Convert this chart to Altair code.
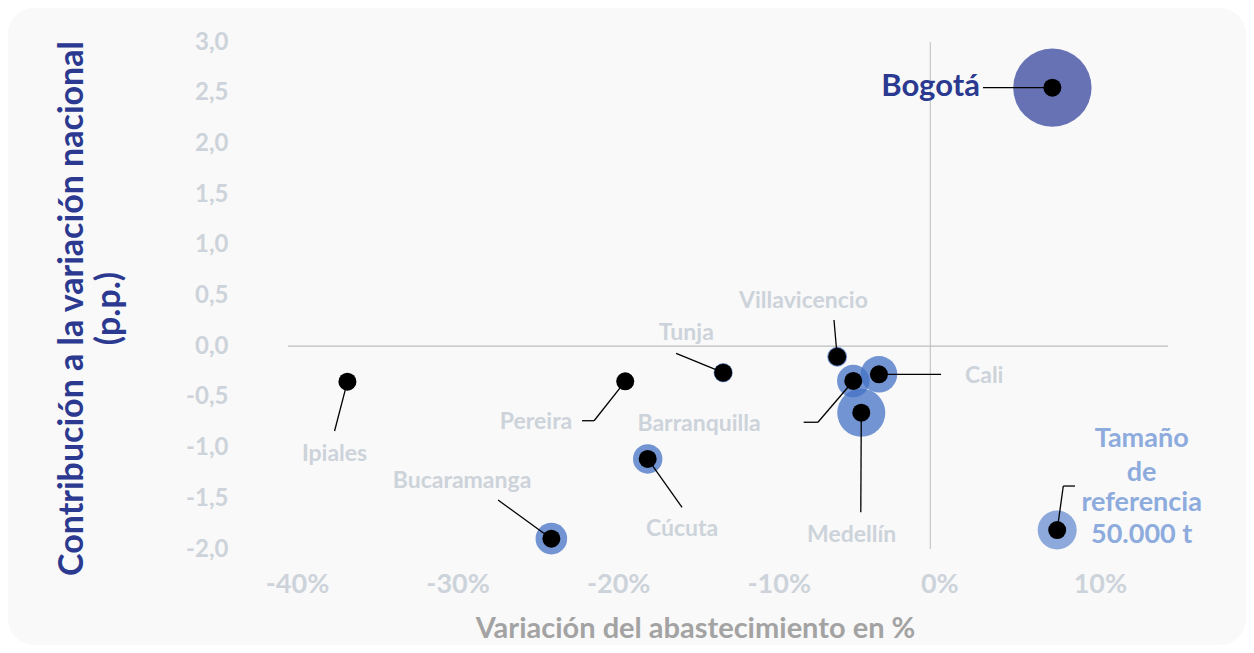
import altair as alt
import pandas as pd

# ---------------- data ----------------
cities = ["Bogotá", "Medellín", "Cali", "Barranquilla", "Villavicencio",
          "Tunja", "Pereira", "Cúcuta", "Bucaramanga", "Ipiales"]
var_abast = [0.076, -0.043, -0.032, -0.048, -0.058, -0.129, -0.190, -0.176, -0.236, -0.363]
contrib = [2.55, -0.656, -0.277, -0.343, -0.104, -0.261, -0.346, -1.112, -1.898, -0.350]
toneladas = [202000, 76000, 44000, 34500, 13000, 12000, 8500, 28400, 32800, 4700]

# leader lines: elbow point and end point (data coordinates)
leader_mid_x = [0.0328, -0.0433, 0.0067, -0.070, -0.060, -0.1583, -0.2094, -0.1546, -0.2692, -0.371]
leader_mid_y = [2.55, -1.638, -0.277, -0.750, 0.258, -0.070, -0.735, -1.589, -1.517, -0.836]
leader_end_x = [0.0328, -0.0433, 0.0067, -0.0789, -0.060, -0.1583, -0.2169, -0.1546, -0.2692, -0.371]
leader_end_y = [2.55, -1.638, -0.277, -0.750, 0.258, -0.070, -0.735, -1.589, -1.517, -0.836]

# label anchors
label_x = [0.0309, -0.049, 0.0216, -0.144, -0.079, -0.152, -0.223, -0.1546, -0.2916, -0.371]
label_y = [2.556, -1.862, -0.294, -0.767, 0.449, 0.130, -0.745, -1.806, -1.329, -1.063]
label_align = ["right", "center", "left", "center", "center", "center", "right", "center", "center", "center"]

# reference bubble
ref_x = [0.079]
ref_y = [-1.813]
ref_t = [50000]
ref_mid = (0.0828, -1.379)
ref_end = (0.0901, -1.379)
ref_lines = ["Tamaño", "de", "referencia", "50.000  t"]
ref_text_x = [0.1316, 0.1316, 0.1316, 0.1316]
ref_text_y = [-0.920, -1.250, -1.551, -1.864]

x_ticks = [-0.4, -0.3, -0.2, -0.1, 0.0, 0.1]
y_ticks = [-2.0, -1.5, -1.0, -0.5, 0.0, 0.5, 1.0, 1.5, 2.0, 2.5, 3.0]

# ---------------- tables ----------------
pts = pd.DataFrame({"ciudad": cities, "x": var_abast, "y": contrib, "t": toneladas})
pts["grupo"] = ["Bogotá"] + ["otra"] * (len(cities) - 1)
ref = pd.DataFrame({"x": ref_x, "y": ref_y, "t": ref_t})

segs = []
for i, c in enumerate(cities):
    segs.append({"x": var_abast[i], "y": contrib[i], "x2": leader_mid_x[i], "y2": leader_mid_y[i]})
    if (leader_mid_x[i], leader_mid_y[i]) != (leader_end_x[i], leader_end_y[i]):
        segs.append({"x": leader_mid_x[i], "y": leader_mid_y[i], "x2": leader_end_x[i], "y2": leader_end_y[i]})
segs.append({"x": ref_x[0], "y": ref_y[0], "x2": ref_mid[0], "y2": ref_mid[1]})
segs.append({"x": ref_mid[0], "y": ref_mid[1], "x2": ref_end[0], "y2": ref_end[1]})
segs = pd.DataFrame(segs)

labels = pd.DataFrame({"ciudad": cities, "x": label_x, "y": label_y, "align": label_align})
ref_txt = pd.DataFrame({"txt": ref_lines, "x": ref_text_x, "y": ref_text_y})

# ---------------- scales ----------------
xs = alt.Scale(domain=[-0.4, 0.148], nice=False, zero=False)
ys = alt.Scale(domain=[-2.0, 3.0], nice=False, zero=False)
ss = alt.Scale(domain=[0, 250000], range=[0, 7605])

GRAY_LABEL = "#CDD3DA"
NAVY = "#2B3990"

x_axis = alt.Axis(
    values=x_ticks, title="Variación del abastecimiento en %",
    labelExpr="round(datum.value*100) + '%'",
    grid=False, domain=False, ticks=False, labelFlush=False, labelOverlap=False,
    labelFont="Lato", labelFontSize=27, labelFontWeight="bold", labelColor=GRAY_LABEL,
    labelPadding=22, labelOffset=9, zindex=1,
    titleFont="Lato", titleFontSize=29, titleFontWeight="bold", titleColor="#A3A3A3",
    titleX=407, titleY=79, titleAlign="center", titleBaseline="middle", titleAngle=0,
)
y_axis = alt.Axis(
    values=y_ticks, title=["Contribución a la variación nacional", "(p.p.)"],
    labelExpr="(datum.value < 0 ? '-' : '') + replace(format(abs(datum.value), '.1f'), '.', ',')",
    grid=False, domain=False, ticks=False, labelFlush=False, labelOverlap=False,
    labelFont="Lato", labelFontSize=24, labelFontWeight="bold", labelColor=GRAY_LABEL,
    labelPadding=60, zindex=1,
    titleFont="Lato", titleFontSize=34, titleFontWeight="bold", titleColor=NAVY,
    titleAngle=270, titleLineHeight=37, titleX=-199, titleY=266,
    titleAlign="center", titleBaseline="bottom",
)

# ---------------- layers ----------------
bg = alt.Chart(pd.DataFrame({"a": [0]})).mark_rect(
    color="#F9F9F9", cornerRadius=26
).encode(x=alt.value(-280), x2=alt.value(958), y=alt.value(-34), y2=alt.value(603))

vrule = alt.Chart(pd.DataFrame({"x": [0.0]})).mark_rule(color="#CBCBCB", strokeWidth=1.3).encode(
    x=alt.X("x:Q", scale=xs, axis=x_axis))
hrule = alt.Chart(pd.DataFrame({"y": [0.0]})).mark_rule(color="#BDBDBD", strokeWidth=1.3).encode(
    y=alt.Y("y:Q", scale=ys, axis=y_axis))

bub_bog = alt.Chart(pts[pts.grupo == "Bogotá"]).mark_circle(color="#6672B3", opacity=1).encode(
    x=alt.X("x:Q", scale=xs), y=alt.Y("y:Q", scale=ys),
    size=alt.Size("t:Q", scale=ss, legend=None))
bub_oth = alt.Chart(pts[pts.grupo == "otra"]).mark_circle(color="#4472C4", opacity=0.75).encode(
    x=alt.X("x:Q", scale=xs), y=alt.Y("y:Q", scale=ys),
    size=alt.Size("t:Q", scale=ss, legend=None))
bub_ref = alt.Chart(ref).mark_circle(color="#8DA9DB", opacity=1).encode(
    x=alt.X("x:Q", scale=xs), y=alt.Y("y:Q", scale=ys),
    size=alt.Size("t:Q", scale=ss, legend=None))

leaders = alt.Chart(segs).mark_rule(color="black", strokeWidth=1.3).encode(
    x=alt.X("x:Q", scale=xs), y=alt.Y("y:Q", scale=ys), x2="x2:Q", y2="y2:Q")

dots_df = pd.concat([pts[["x", "y"]], ref[["x", "y"]]])
dots = alt.Chart(dots_df).mark_circle(color="black", opacity=1, size=324).encode(
    x=alt.X("x:Q", scale=xs), y=alt.Y("y:Q", scale=ys))

def text_layer(df, align):
    return alt.Chart(df).mark_text(
        align=align, baseline="middle", font="Lato", fontSize=23, fontWeight="bold", color=GRAY_LABEL
    ).encode(x=alt.X("x:Q", scale=xs), y=alt.Y("y:Q", scale=ys), text="ciudad:N")

lab_other = labels[labels.ciudad != "Bogotá"]
t_left = text_layer(lab_other[lab_other["align"] == "left"], "left")
t_center = text_layer(lab_other[lab_other["align"] == "center"], "center")
t_right = text_layer(lab_other[lab_other["align"] == "right"], "right")

t_bog = alt.Chart(labels[labels.ciudad == "Bogotá"]).mark_text(
    align="right", baseline="middle", font="Lato", fontSize=31, fontWeight="bold", color=NAVY
).encode(x=alt.X("x:Q", scale=xs), y=alt.Y("y:Q", scale=ys), text="ciudad:N")

t_ref = alt.Chart(ref_txt).mark_text(
    align="center", baseline="middle", font="Lato", fontSize=27, fontWeight="bold", color="#8DABDD"
).encode(x=alt.X("x:Q", scale=xs), y=alt.Y("y:Q", scale=ys), text="txt:N")

chart = alt.layer(
    bg, vrule, hrule, bub_bog, bub_oth, bub_ref, leaders, dots,
    t_left, t_center, t_right, t_bog, t_ref
).properties(
    width=880, height=507,
    autosize=alt.AutoSizeParams(type="none"),
    padding={"left": 280, "top": 34, "right": 78, "bottom": 96},
    background="white",
).configure_view(stroke=None)

chart.save("out.html", embed_options={"renderer": "svg", "actions": False})
